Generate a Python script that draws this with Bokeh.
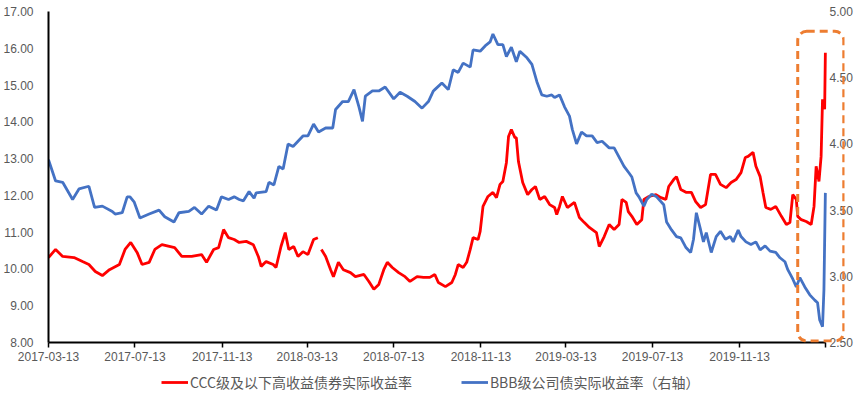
import numpy as np
import pandas as pd
from bokeh.plotting import figure
from bokeh.layouts import column
from bokeh.models import (Range1d, LinearAxis, FixedTicker, NumeralTickFormatter,
                          DatetimeTickFormatter, Legend, LegendItem, BoxAnnotation)
from bokeh.embed import file_html
from bokeh.resources import INLINE

# ---------------- data ----------------
ccc_dates = [
    "2017-03-13", "2017-03-23", "2017-04-02", "2017-04-18", "2017-04-30", "2017-05-09", "2017-05-18",
    "2017-05-28", "2017-06-07", "2017-06-21", "2017-06-29", "2017-07-07", "2017-07-16", "2017-07-23",
    "2017-08-02", "2017-08-10", "2017-08-20", "2017-09-07", "2017-09-17", "2017-10-01", "2017-10-15",
    "2017-10-22", "2017-11-01", "2017-11-08", "2017-11-15", "2017-11-22", "2017-11-30", "2017-12-07",
    "2017-12-17", "2017-12-27", "2018-01-03", "2018-01-07", "2018-01-14", "2018-01-24", "2018-01-28",
    "2018-02-04", "2018-02-10", "2018-02-15", "2018-02-22", "2018-02-28", "2018-03-07", "2018-03-14",
    "2018-03-22", "2018-03-28", "2018-03-30", "2018-04-02", "2018-04-08", "2018-04-15", "2018-04-19",
    "2018-04-26", "2018-05-03", "2018-05-13", "2018-05-20", "2018-06-01", "2018-06-08", "2018-06-15",
    "2018-06-22", "2018-06-29", "2018-07-04", "2018-07-11", "2018-07-20", "2018-07-29", "2018-08-05",
    "2018-08-15", "2018-08-24", "2018-09-02", "2018-09-09", "2018-09-14", "2018-09-24", "2018-10-03",
    "2018-10-08", "2018-10-12", "2018-10-19", "2018-10-24", "2018-10-29", "2018-11-02", "2018-11-09",
    "2018-11-12", "2018-11-16", "2018-11-23", "2018-11-30", "2018-12-05", "2018-12-10", "2018-12-14",
    "2018-12-19", "2018-12-22", "2018-12-26", "2018-12-31", "2019-01-02", "2019-01-05", "2019-01-11",
    "2019-01-18", "2019-01-24", "2019-01-29", "2019-02-04", "2019-02-11", "2019-02-18", "2019-02-25",
    "2019-02-28", "2019-03-04", "2019-03-08", "2019-03-15", "2019-03-25", "2019-04-01", "2019-04-08",
    "2019-04-15", "2019-04-25", "2019-04-29", "2019-05-06", "2019-05-13", "2019-05-20", "2019-05-27",
    "2019-05-31", "2019-06-06", "2019-06-09", "2019-06-14", "2019-06-21", "2019-06-28", "2019-07-01",
    "2019-07-08", "2019-07-18", "2019-07-25", "2019-08-01", "2019-08-05", "2019-08-12", "2019-08-16",
    "2019-08-22", "2019-08-30", "2019-09-06", "2019-09-12", "2019-09-19", "2019-09-26", "2019-10-03",
    "2019-10-10", "2019-10-17", "2019-10-25", "2019-11-01", "2019-11-08", "2019-11-15", "2019-11-21",
    "2019-11-25", "2019-12-02", "2019-12-06", "2019-12-12", "2019-12-16", "2019-12-20", "2019-12-27",
    "2020-01-03", "2020-01-11", "2020-01-18", "2020-01-23", "2020-01-27", "2020-02-01", "2020-02-03",
    "2020-02-08", "2020-02-15", "2020-02-22", "2020-02-26", "2020-02-29", "2020-03-04", "2020-03-07",
    "2020-03-09", "2020-03-12", "2020-03-13",
]
ccc_yield = [
    10.31, 10.53, 10.34, 10.31, 10.20, 10.12, 9.93,
    9.82, 9.98, 10.12, 10.53, 10.72, 10.45, 10.12,
    10.18, 10.53, 10.66, 10.58, 10.34, 10.34, 10.39,
    10.18, 10.53, 10.58, 11.07, 10.85, 10.80, 10.72,
    10.75, 10.66, 10.34, 10.07, 10.20, 10.12, 10.04,
    10.61, 10.99, 10.53, 10.61, 10.34, 10.47, 10.39,
    10.80, 10.85, float("nan"), 10.53, 10.34, 9.98, 9.79,
    10.18, 9.98, 9.90, 9.79, 9.85, 9.66, 9.45,
    9.58, 9.98, 10.18, 10.04, 9.90, 9.79, 9.66,
    9.79, 9.77, 9.77, 9.85, 9.63, 9.52, 9.63,
    9.85, 10.12, 10.04, 10.18, 10.53, 10.85, 10.80,
    11.02, 11.70, 11.97, 12.08, 11.94, 12.30, 12.38,
    12.89, 13.60, 13.79, 13.57, 13.57, 12.92, 12.35,
    12.02, 12.16, 12.24, 11.89, 11.97, 11.75, 11.67,
    11.48, 11.70, 11.97, 11.67, 11.81, 11.40, 11.26,
    11.13, 10.99, 10.61, 10.88, 11.21, 11.07, 11.21,
    11.89, 11.81, 11.56, 11.43, 11.21, 11.34, 11.89,
    11.97, 12.02, 11.94, 11.89, 12.24, 12.43, 12.51,
    12.16, 12.08, 12.08, 11.83, 11.67, 11.75, 12.57,
    12.57, 12.30, 12.21, 12.35, 12.43, 12.62, 13.03,
    13.06, 13.17, 12.79, 12.51, 12.08, 11.67, 11.62,
    11.70, 11.43, 11.21, 11.26, 12.02, 11.89, 11.43,
    11.34, 11.29, 11.21, 11.70, 12.79, 12.38, 13.06,
    14.61, 14.34, 15.88,
]

bbb_dates = [
    "2017-03-13", "2017-03-23", "2017-04-02", "2017-04-16", "2017-04-25", "2017-05-09", "2017-05-17",
    "2017-05-28", "2017-06-11", "2017-06-15", "2017-06-25", "2017-07-02", "2017-07-06", "2017-07-12",
    "2017-07-20", "2017-08-02", "2017-08-16", "2017-08-24", "2017-09-06", "2017-09-13", "2017-09-27",
    "2017-10-05", "2017-10-15", "2017-10-25", "2017-11-05", "2017-11-12", "2017-11-22", "2017-11-30",
    "2017-12-07", "2017-12-13", "2017-12-21", "2017-12-28", "2017-12-31", "2018-01-14", "2018-01-18",
    "2018-01-25", "2018-02-01", "2018-02-07", "2018-02-14", "2018-02-21", "2018-02-28", "2018-03-07",
    "2018-03-14", "2018-03-22", "2018-03-29", "2018-04-08", "2018-04-18", "2018-04-22", "2018-05-02",
    "2018-05-10", "2018-05-18", "2018-05-25", "2018-05-30", "2018-06-03", "2018-06-13", "2018-06-22",
    "2018-07-01", "2018-07-13", "2018-07-22", "2018-08-01", "2018-08-12", "2018-08-22", "2018-08-31",
    "2018-09-07", "2018-09-09", "2018-09-19", "2018-09-28", "2018-10-05", "2018-10-12", "2018-10-19",
    "2018-10-29", "2018-11-02", "2018-11-12", "2018-11-19", "2018-11-26", "2018-11-30", "2018-12-07",
    "2018-12-14", "2018-12-19", "2018-12-26", "2019-01-02", "2019-01-07", "2019-01-17", "2019-01-24",
    "2019-01-31", "2019-02-07", "2019-02-14", "2019-02-21", "2019-02-25", "2019-03-04", "2019-03-11",
    "2019-03-18", "2019-03-22", "2019-03-28", "2019-04-04", "2019-04-11", "2019-04-19", "2019-04-26",
    "2019-05-03", "2019-05-13", "2019-05-20", "2019-05-27", "2019-06-03", "2019-06-10", "2019-06-14",
    "2019-06-20", "2019-06-24", "2019-07-01", "2019-07-05", "2019-07-12", "2019-07-19", "2019-07-29",
    "2019-08-02", "2019-08-09", "2019-08-16", "2019-08-22", "2019-08-29", "2019-09-05", "2019-09-09",
    "2019-09-13", "2019-09-19", "2019-09-23", "2019-09-27", "2019-10-04", "2019-10-11", "2019-10-17",
    "2019-10-24", "2019-10-31", "2019-11-04", "2019-11-11", "2019-11-15", "2019-11-22", "2019-11-29",
    "2019-12-06", "2019-12-12", "2019-12-19", "2019-12-26", "2020-01-03", "2020-01-09", "2020-01-16",
    "2020-01-20", "2020-01-27", "2020-02-01", "2020-02-06", "2020-02-13", "2020-02-20", "2020-02-27",
    "2020-03-02", "2020-03-05", "2020-03-09", "2020-03-11", "2020-03-13",
]
bbb_yield = [
    3.88, 3.72, 3.71, 3.58, 3.66, 3.68, 3.52,
    3.53, 3.49, 3.47, 3.48, 3.60, 3.60, 3.56,
    3.44, 3.47, 3.50, 3.45, 3.41, 3.48, 3.49,
    3.52, 3.47, 3.53, 3.50, 3.60, 3.58, 3.60,
    3.58, 3.57, 3.64, 3.59, 3.63, 3.64, 3.71,
    3.69, 3.83, 3.81, 4.00, 3.98, 4.02, 4.06,
    4.06, 4.15, 4.09, 4.12, 4.12, 4.26, 4.32,
    4.32, 4.41, 4.28, 4.17, 4.36, 4.40, 4.40,
    4.43, 4.34, 4.39, 4.36, 4.32, 4.27, 4.32,
    4.40, 4.41, 4.46, 4.41, 4.56, 4.54, 4.61,
    4.58, 4.71, 4.70, 4.74, 4.77, 4.83, 4.75,
    4.75, 4.66, 4.73, 4.62, 4.70, 4.65, 4.60,
    4.47, 4.37, 4.36, 4.37, 4.35, 4.37, 4.28,
    4.21, 4.11, 4.00, 4.09, 4.06, 4.06, 4.01,
    4.02, 3.97, 3.97, 3.90, 3.83, 3.78, 3.75,
    3.63, 3.60, 3.53, 3.58, 3.62, 3.60, 3.54,
    3.41, 3.35, 3.30, 3.29, 3.22, 3.18, 3.28,
    3.48, 3.35, 3.26, 3.33, 3.18, 3.30, 3.34,
    3.28, 3.30, 3.26, 3.35, 3.30, 3.26, 3.24,
    3.26, 3.20, 3.23, 3.19, 3.18, 3.14, 3.11,
    3.05, 2.98, 2.92, 2.99, 2.92, 2.86, 2.82,
    2.80, 2.67, 2.62, 2.90, 3.63,
]

tick_dates = ["2017-03-13", "2017-07-13", "2017-11-13", "2018-03-13", "2018-07-13",
              "2018-11-13", "2019-03-13", "2019-07-13", "2019-11-13", "2020-03-13"]
left_ticks = [8, 9, 10, 11, 12, 13, 14, 15, 16, 17]
right_ticks = [2.5, 3.0, 3.5, 4.0, 4.5, 5.0]

label_ccc = "CCC级及以下高收益债券实际收益率"
label_bbb = "BBB级公司债实际收益率（右轴）"

# ---------------- figure ----------------
def ms(d):
    return pd.Timestamp(d).value / 1e6

TICK_FONT = "Liberation Sans"
CJK_FONT = "Noto Sans CJK SC"
GREY = "#595959"
RED = "#FF0000"
BLUE = "#4472C4"

axis_start, axis_end = "2017-03-13", "2020-03-13"

p = figure(width=857, height=368, output_backend="svg", toolbar_location=None,
           x_axis_type="datetime",
           x_range=Range1d(ms("2017-03-13"), ms("2020-04-09")),
           y_range=Range1d(8, 17),
           min_border_left=38, min_border_right=13, min_border_top=11, min_border_bottom=26)
p.extra_y_ranges = {"right": Range1d(2.5, 5)}
p.grid.visible = False
p.outline_line_color = None
p.background_fill_color = "white"
p.border_fill_color = "white"

ccc_x = pd.to_datetime(ccc_dates)
ccc_y = np.array(ccc_yield, dtype=float)
bbb_x = pd.to_datetime(bbb_dates)
bbb_y = np.array(bbb_yield, dtype=float)

r_ccc = p.line(ccc_x, ccc_y, line_color=RED, line_width=2.8)
r_bbb = p.line(bbb_x, bbb_y, line_color=BLUE, line_width=2.8, y_range_name="right")

# x axis
xa = p.xaxis[0]
xa.bounds = (ms(axis_start), ms(axis_end))
xa.ticker = FixedTicker(ticks=[ms(d) for d in tick_dates])
xa.formatter = DatetimeTickFormatter(days="%Y-%m-%d", months="%Y-%m-%d", years="%Y-%m-%d",
                                     hours="%Y-%m-%d", minutes="%Y-%m-%d", seconds="%Y-%m-%d",
                                     milliseconds="%Y-%m-%d", microseconds="%Y-%m-%d")
xa.major_label_overrides = {ms(axis_end): ""}
xa.axis_line_color = "black"
xa.axis_line_width = 2
xa.major_tick_line_color = "black"
xa.major_tick_line_width = 1.5
xa.major_tick_out = 5
xa.major_tick_in = 0
xa.minor_tick_line_color = None
xa.major_label_text_font = TICK_FONT
xa.major_label_text_font_size = "12px"
xa.major_label_text_color = GREY
xa.major_label_standoff = 4

# left axis
ya = p.yaxis[0]
ya.ticker = FixedTicker(ticks=left_ticks)
ya.formatter = NumeralTickFormatter(format="0.00")
ya.axis_line_color = "black"
ya.axis_line_width = 2
ya.major_tick_line_color = None
ya.minor_tick_line_color = None
ya.major_label_text_font = TICK_FONT
ya.major_label_text_font_size = "12px"
ya.major_label_text_color = GREY
ya.major_label_standoff = 9

# right axis (labels pulled back into the plot margin)
ra = LinearAxis(y_range_name="right", ticker=FixedTicker(ticks=right_ticks),
                formatter=NumeralTickFormatter(format="0.00"))
ra.axis_line_color = None
ra.major_tick_line_color = None
ra.minor_tick_line_color = None
ra.major_tick_out = 0
ra.major_tick_in = 0
ra.major_label_text_font = TICK_FONT
ra.major_label_text_font_size = "12px"
ra.major_label_text_color = GREY
ra.major_label_standoff = -15
p.add_layout(ra, "right")

# highlight box
box = BoxAnnotation(left=ms("2020-02-03"), right=ms("2020-04-08"), top=16.46, bottom=8.04,
                    fill_alpha=0, line_color="#ED7D31", line_alpha=1.0, line_width=3,
                    line_dash="8 5", border_radius=9, level="overlay")
p.add_layout(box)

# legend strip (series are drawn again but kept out of its view; only the legend shows)
p2 = figure(width=857, height=26, output_backend="svg", toolbar_location=None,
            x_axis_location=None, y_axis_location=None,
            x_range=Range1d(0, 1), y_range=Range1d(0, 1),
            min_border_left=0, min_border_right=0, min_border_top=0, min_border_bottom=0)
p2.outline_line_color = None
p2.grid.visible = False
l_ccc = p2.line(ccc_x, ccc_y, line_color=RED, line_width=2.8)
l_bbb = p2.line(bbb_x, bbb_y, line_color=BLUE, line_width=2.8)
legend = Legend(items=[LegendItem(label=label_ccc, renderers=[l_ccc]),
                       LegendItem(label=label_bbb, renderers=[l_bbb])],
                orientation="horizontal", location=(113, 2),
                border_line_color=None, background_fill_alpha=0,
                label_text_font=CJK_FONT, label_text_font_size="14px", label_text_color=GREY,
                glyph_width=27, glyph_height=14, label_height=14, label_standoff=2,
                spacing=49, padding=4, margin=0)
p2.add_layout(legend)

open("out.html", "w").write(file_html(column(p, p2, spacing=0), INLINE))
